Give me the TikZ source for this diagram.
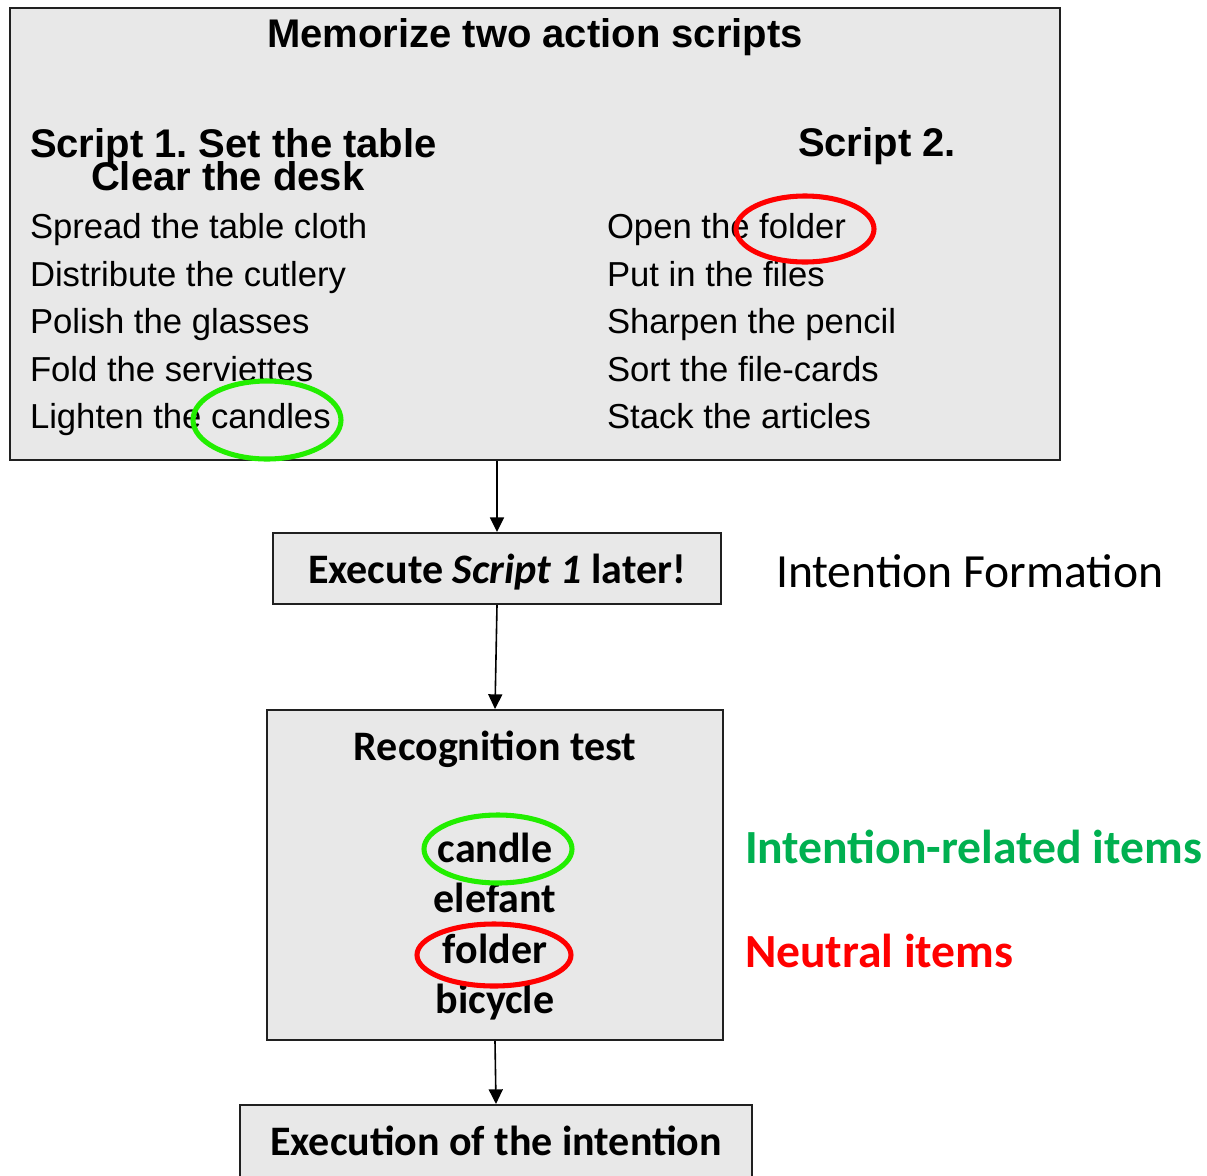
\documentclass[tikz,border=0pt]{standalone}
\usepackage{fontspec}
\setmainfont{Liberation Sans}
\newfontfamily\calfont{Carlito}
\usetikzlibrary{arrows.meta}
\frenchspacing
\definecolor{boxgray}{HTML}{E8E8E8}
\definecolor{boxline}{HTML}{202020}
\definecolor{lgreen}{HTML}{22EE00}
\definecolor{itemgreen}{HTML}{00B050}
\definecolor{itemred}{HTML}{FF0000}
\tikzset{
  box/.style={draw=boxline, fill=boxgray, line width=1.5pt, inner sep=0pt},
  txt/.style={inner sep=0pt, outer sep=0pt},
  arialbig/.style={txt, font=\bfseries\fontsize{30}{36}\selectfont},
  arialitem/.style={txt, font=\fontsize{26}{30}\selectfont},
  calbold/.style={txt, font=\calfont\bfseries\fontsize{31.5}{38}\selectfont},
  callabel/.style={txt, font=\calfont\bfseries\fontsize{35.7}{42}\selectfont},
  flow/.style={line width=1.2pt, -{Triangle[width=10.5pt,length=11pt]}},
  ring/.style={line width=3.8pt}
}
\begin{document}
\begin{tikzpicture}[x=0.75pt, y=-0.75pt]
\useasboundingbox (0,0) rectangle (1207,1175);
% boxes
\node[box, minimum width=787.5pt, minimum height=339pt] (mem) at (535,234) {};
\node[box, minimum width=336pt, minimum height=53.25pt] (exec) at (497,568.5) {};
\node[box, minimum width=342pt, minimum height=247.5pt] (recog) at (495,875) {};
\node[box, minimum width=384pt, minimum height=75pt] (final) at (496,1155) {};
% memorize box texts
\node[arialbig, anchor=base] (title) at (535,47) {Memorize two action scripts};
\node[arialbig, anchor=base west] (s1) at (30,157) {Script 1. Set the table};
\node[arialbig, anchor=base west] (s1b) at (91,190) {Clear the desk};
\node[arialbig, anchor=base west] (s2) at (798,156) {Script 2.};
\node[arialitem, anchor=base west] (a1) at (30,238) {Spread the table cloth};
\node[arialitem, anchor=base west] (a2) at (30,286) {Distribute the cutlery};
\node[arialitem, anchor=base west] (a3) at (30,333) {Polish the glasses};
\node[arialitem, anchor=base west] (a4) at (30,381) {Fold the serviettes};
\node[arialitem, anchor=base west] (a5) at (30,428) {Lighten the candles};
\node[arialitem, anchor=base west] (b1) at (607,238) {Open the folder};
\node[arialitem, anchor=base west] (b2) at (607,286) {Put in the files};
\node[arialitem, anchor=base west] (b3) at (607,333) {Sharpen the pencil};
\node[arialitem, anchor=base west] (b4) at (607,381) {Sort the file-cards};
\node[arialitem, anchor=base west] (b5) at (607,428) {Stack the articles};
% other texts
\node[calbold, anchor=base] (exectxt) at (497,583) {Execute \textit{Script 1} later!};
\node[txt, anchor=base west, font=\calfont\fontsize{35.7}{42}\selectfont] (form) at (776,587) {Intention Formation};
\node[calbold, anchor=base] (rt) at (495,760) {Recognition test};
\node[calbold, anchor=base] (w1) at (495,862) {candle};
\node[calbold, anchor=base] (w2) at (495,912) {elefant};
\node[calbold, anchor=base] (w3) at (495,963) {folder};
\node[calbold, anchor=base] (w4) at (495,1013) {bicycle};
\node[callabel, anchor=base west, text=itemgreen] (rel) at (745,863) {Intention-related items};
\node[callabel, anchor=base west, text=itemred] (neu) at (745,967) {Neutral items};
\node[calbold, anchor=base] (fintxt) at (496,1155) {Execution of the intention};
% rings
\draw[ring, draw=lgreen] (267,420) ellipse [x radius=74, y radius=39];
\draw[ring, draw=itemred] (805,229) ellipse [x radius=69, y radius=33];
\draw[ring, draw=lgreen] (498,849) ellipse [x radius=74, y radius=34];
\draw[ring, draw=itemred] (494,955) ellipse [x radius=77, y radius=31];
% arrows
\draw[flow] (exec.north |- mem.south) -- (exec.north);
\draw[flow] (exec.south) -- (recog.north);
\draw[flow] (recog.south) -- (final.north);
\end{tikzpicture}
\end{document}
